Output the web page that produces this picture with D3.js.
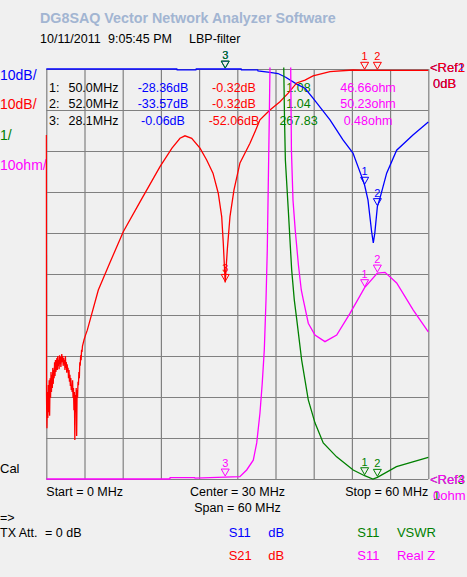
<!DOCTYPE html>
<html>
<head>
<meta charset="utf-8">
<script src="https://cdn.jsdelivr.net/npm/d3@7"></script>
<style>
    body { margin: 0; background: #f0f0f0; }
    svg { display: block; font-family: "Liberation Sans", Arial, sans-serif; }
</style>
</head>
<body>
<script>
(function(){

    //sweep and grid
    var freqTicks = [0, 6, 12, 18, 24, 30, 36, 42, 48, 54, 60];
    var dbTicks = [0, -10, -20, -30, -40, -50, -60, -70, -80, -90, -100];

    //trace 1: S11 dB, [MHz, dB]
    var s11Db = [[0,0],[20.5,0],[20.55,-0.2],[23.5,-0.2],[23.55,0],[30.6,0],[30.65,-0.2],[33.2,-0.2],
        [33.25,-0.45],[35.13,-0.8],[36.4,-1.1],[37.6,-2.0],[39.33,-3.7],[40.63,-4.7],[41.89,-7.1],
        [44.56,-12.4],[46.6,-17.3],[48.17,-20.5],[49.74,-27.1],[50,-28.36],[50.53,-32.0],[51.1,-39.7],
        [51.36,-42.4],[51.6,-40.0],[52,-33.57],[52.41,-31.5],[53.46,-25.4],[55.03,-19.8],[57.59,-16.1],[60,-12.9]];

    //trace 2: S21 dB, [MHz, dB] (noise floor at the low end)
    var s21Db = [[0,-16.1],[0.03,-79.5],[0.10,-87.6],[0.17,-78.8],[0.24,-85.1],[0.31,-77.1],[0.38,-83.7],
        [0.45,-75.9],[0.52,-84.6],[0.60,-75.4],[0.67,-80.2],[0.74,-73.9],[0.81,-78.8],[0.88,-74.6],
        [0.95,-77.8],[1.02,-72.9],[1.09,-76.8],[1.16,-73.4],[1.23,-75.4],[1.30,-71.5],[1.37,-74.9],
        [1.44,-71.0],[1.51,-73.9],[1.59,-72.2],[1.66,-70.5],[1.73,-73.4],[1.80,-70.0],[1.87,-72.4],
        [1.94,-71.0],[2.01,-73.2],[2.08,-69.8],[2.15,-72.0],[2.22,-70.2],[2.29,-72.7],[2.36,-71.0],
        [2.43,-69.5],[2.50,-71.5],[2.58,-70.0],[2.65,-72.4],[2.72,-70.5],[2.79,-72.0],[2.86,-71.0],
        [2.93,-73.4],[3.00,-70.0],[3.07,-72.9],[3.14,-71.5],[3.21,-74.1],[3.28,-72.0],[3.35,-73.7],
        [3.42,-72.9],[3.49,-75.4],[3.57,-73.4],[3.64,-76.3],[3.71,-74.6],[3.78,-77.3],[3.85,-75.4],
        [3.92,-78.3],[3.99,-77.1],[4.06,-78.8],[4.13,-75.9],[4.20,-80.2],[4.27,-77.8],[4.34,-83.2],
        [4.41,-78.8],[4.48,-90.5],[4.55,-79.5],[4.62,-83.7],[4.70,-77.8],[4.77,-89.5],[4.84,-78.3],
        [4.91,-80.2],[4.98,-76.3],[5.05,-77.1],[5.12,-73.9],[5.19,-75.4],[5.26,-71.5],[5.33,-72.4],
        [5.40,-69.8],[5.47,-71.0],[5.54,-68.5],[5.61,-69.0],[5.68,-67.6],[5.76,-67.1],[5.92,-66.1],
        [6.16,-64.9],[6.44,-63.7],[8.17,-53.9],[10.0,-47.2],[12.09,-39.7],[14.72,-32.4],[17.86,-23.8],
        [19.74,-19.3],[21.0,-16.9],[21.78,-16.3],[22.84,-16.9],[24.14,-19.3],[25.19,-22.2],[26.18,-25.4],
        [27.01,-30.3],[27.55,-36.0],[27.8,-42.5],[28.1,-52.06],[28.43,-44.1],[28.85,-36.0],[29.48,-29.5],
        [30.42,-22.9],[31.99,-18.1],[32.78,-15.3],[33.56,-12.4],[35.13,-10.0],[36.7,-8.0],[38.0,-5.9],
        [39.33,-3.4],[40.63,-2.7],[41.9,-1.7],[44.56,-0.66],[48.17,-0.25],[50,-0.32],[52,-0.32],
        [56,-0.35],[60,-0.35]];

    //trace 3: S11 VSWR, [MHz, ratio]
    var s11Vswr = [[0,500],[28.1,267.83],[37.0,20],[37.3,11],[37.42,9.76],[37.55,8.78],[38.01,7.56],
        [38.54,6.10],[38.95,5.37],[39.33,4.9],[40.11,3.90],[41.15,2.93],[42.2,2.37],[43.5,1.88],
        [45.6,1.54],[48.2,1.22],[50,1.08],[51.3,1.0],[52,1.04],[55.0,1.30],[60,1.53]];

    //trace 4: S11 Real Z, [MHz, ohm]
    var s11RealZ = [[0,0],[19.4,0],[19.45,0.35],[23.3,0.35],[23.35,0.2],[28.1,0.48],[30.4,0.56],
        [31.47,2.2],[32.51,4.6],[33.05,8.8],[33.56,16.1],[33.92,23.4],[34.24,31.5],[34.51,43.7],
        [34.71,55.9],[35.02,87.6],[35.13,100],[35.5,300],[37.0,2000],[38.2,300],[38.39,100],[38.5,80.2],
        [38.75,68.0],[39.1,60.7],[39.6,52.2],[40.05,46.1],[40.37,43.7],[41.15,38.0],[42.2,35.1],
        [43.77,33.5],[45.61,35.1],[47.7,40.4],[50,46.66],[52,50.23],[53.2,50.4],[55.03,47.8],
        [57.64,41.2],[60,35.9]];

    //markers
    var markerFreqs = [50.0, 52.0, 28.1];
    var markerS11Db = [-28.36, -33.57, -0.06];
    var markerS21Db = [-0.32, -0.32, -52.06];
    var markerVswr = [1.08, 1.04, 267.83];
    var markerRealZ = [46.66, 50.23, 0.48];

    var width = 467, height = 577;
    var plotLeft = 46.3, plotRight = 428.3, plotTop = 69, plotBottom = 479;

    var svg = d3.select("body")
        .append("svg")
        .attr("width", width)
        .attr("height", height);

    //scales, one per trace format
    var x = d3.scaleLinear().domain([0, 60]).range([plotLeft, plotRight]);
    var yDb = d3.scaleLinear().domain([-100, 0]).range([plotBottom, plotTop]);
    var yVswr = d3.scaleLinear().domain([1, 11]).range([plotBottom, plotTop]);
    var yOhm = d3.scaleLinear().domain([0, 100]).range([plotBottom, plotTop]);

    //header
    svg.append("text").attr("x", 40).attr("y", 23)
        .style("font-size", "14.3px").style("font-weight", "bold").style("fill", "#a2b5d2")
        .text("DG8SAQ Vector Network Analyzer Software");
    [["10/11/2011", 40], ["9:05:45 PM", 108], ["LBP-filter", 189]].forEach(function(t) {
        svg.append("text").attr("x", t[1]).attr("y", 42.5)
            .style("font-size", "12.5px").style("fill", "#000").text(t[0]);
    });

    //grid
    var gx = svg.append("g")
        .attr("transform", "translate(0," + plotBottom + ")")
        .call(d3.axisBottom(x).tickValues(freqTicks).tickSize(-(plotBottom - plotTop)).tickFormat(""));
    var gy = svg.append("g")
        .attr("transform", "translate(" + plotLeft + ",0)")
        .call(d3.axisLeft(yDb).tickValues(dbTicks).tickSize(-(plotRight - plotLeft)).tickFormat(""));
    [gx, gy].forEach(function(g) {
        g.select(".domain").remove();
        g.selectAll("line").attr("stroke", "#808080").attr("stroke-width", 1.2);
    });

    //left scale labels
    var leftLabels = [["10dB/", "#0000ff", 79.5], ["10dB/", "#ff0000", 109], ["1/", "#008000", 140], ["10ohm/", "#ff00ff", 170]];
    leftLabels.forEach(function(l) {
        svg.append("text").attr("x", 0).attr("y", l[2])
            .style("font-size", "14px").style("fill", l[1]).text(l[0]);
    });

    //right reference labels (later traces overdraw earlier ones)
    var refLabels = [["<Ref1", "#0000ff", 430, 71.5], ["<Ref2", "#ff0000", 430, 71.5],
        ["0dB", "#0000ff", 433, 87.5], ["0dB", "#ff0000", 433, 87.5],
        ["<Ref3", "#008000", 430, 484], ["<Ref4", "#ff00ff", 430, 484],
        ["1", "#008000", 433, 500], ["0ohm", "#ff00ff", 433, 500]];
    refLabels.forEach(function(l) {
        svg.append("text").attr("x", l[2]).attr("y", l[3])
            .style("font-size", "13px").style("fill", l[1]).text(l[0]);
    });

    //marker readout table
    var rowY = [91.5, 108, 125];
    markerFreqs.forEach(function(f, i) {
        var y = rowY[i];
        var cells = [
            [(i + 1) + ":", 49, "start", "#000"],
            [f.toFixed(1) + "MHz", 118.5, "end", "#000"],
            [markerS11Db[i].toFixed(2) + "dB", 163, "middle", "#0000ff"],
            [markerS21Db[i].toFixed(2) + "dB", 234, "middle", "#ff0000"],
            [markerVswr[i].toFixed(2), 298.5, "middle", "#008000"],
            [markerRealZ[i].toFixed(2) + "ohm", 368, "middle", "#ff00ff"]
        ];
        cells.forEach(function(c) {
            svg.append("text").attr("x", c[1]).attr("y", y)
                .attr("text-anchor", c[2])
                .style("font-size", "12.5px").style("fill", c[3]).text(c[0]);
        });
    });

    //clip traces to the screen area
    svg.append("clipPath").attr("id", "plotClip")
        .append("rect")
        .attr("x", plotLeft - 1).attr("y", plotTop - 1.5)
        .attr("width", plotRight - plotLeft + 2).attr("height", plotBottom - plotTop + 3);

    var traces = [
        {data: s11Db, scale: yDb, color: "#0000ff", markers: markerS11Db},
        {data: s21Db, scale: yDb, color: "#ff0000", markers: markerS21Db},
        {data: s11Vswr, scale: yVswr, color: "#008000", markers: markerVswr},
        {data: s11RealZ, scale: yOhm, color: "#ff00ff", markers: markerRealZ}
    ];

    var traceGroup = svg.append("g").attr("clip-path", "url(#plotClip)");
    traces.forEach(function(t) {
        var line = d3.line()
            .x(function(d) { return x(d[0]); })
            .y(function(d) { return t.scale(d[1]); });
        traceGroup.append("path")
            .datum(t.data)
            .attr("d", line)
            .attr("fill", "none")
            .attr("stroke", t.color)
            .attr("stroke-width", 1.3);
    });

    //marker triangles, clamped to the screen edges
    traces.forEach(function(t) {
        t.markers.forEach(function(v, i) {
            var mx = x(markerFreqs[i]);
            var my = Math.max(plotTop, Math.min(plotBottom, t.scale(v)));
            svg.append("path")
                .attr("d", "M" + (mx - 4) + "," + (my - 8) + "L" + (mx + 4) + "," + (my - 8) + "L" + mx + "," + (my - 1) + "Z")
                .attr("fill", "none")
                .attr("stroke", t.color)
                .attr("stroke-width", 1);
            svg.append("text").attr("x", mx).attr("y", my - 10)
                .attr("text-anchor", "middle")
                .style("font-size", "11px").style("fill", t.color)
                .text(i + 1);
        });
    });

    //sweep labels
    svg.append("text").attr("x", plotLeft).attr("y", 495.5).style("font-size", "12.5px").text("Start = 0 MHz");
    svg.append("text").attr("x", 237.5).attr("y", 495.5).attr("text-anchor", "middle").style("font-size", "12.5px").text("Center = 30 MHz");
    svg.append("text").attr("x", plotRight).attr("y", 495.5).attr("text-anchor", "end").style("font-size", "12.5px").text("Stop = 60 MHz");
    svg.append("text").attr("x", 237.5).attr("y", 511.5).attr("text-anchor", "middle").style("font-size", "12.5px").text("Span = 60 MHz");

    svg.append("text").attr("x", 0).attr("y", 473).style("font-size", "13px").text("Cal");
    svg.append("text").attr("x", 0).attr("y", 522).style("font-size", "12.5px").text("=>");
    svg.append("text").attr("x", 0).attr("y", 537).style("font-size", "12.5px").text("TX Att.");
    svg.append("text").attr("x", 45).attr("y", 537).style("font-size", "12.5px").text("= 0 dB");

    //trace legend
    var legend = [["S11", "dB", "#0000ff", 228.7, 537], ["S21", "dB", "#ff0000", 228.7, 560],
        ["S11", "VSWR", "#008000", 357.3, 537], ["S11", "Real Z", "#ff00ff", 357.3, 560]];
    legend.forEach(function(l) {
        svg.append("text").attr("x", l[3]).attr("y", l[4]).style("font-size", "13px").style("fill", l[2]).text(l[0]);
        svg.append("text").attr("x", l[3] + 39.6).attr("y", l[4]).style("font-size", "13px").style("fill", l[2]).text(l[1]);
    });
})();
</script>
</body>
</html>
